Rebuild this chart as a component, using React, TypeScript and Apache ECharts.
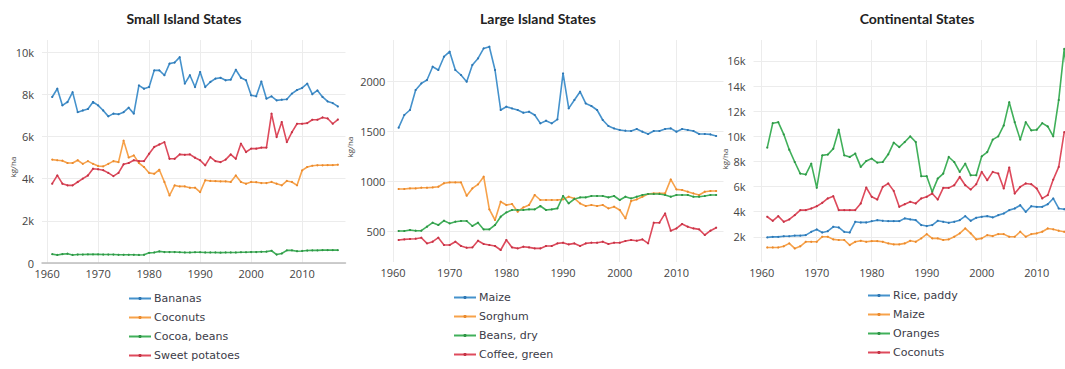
import React, { useEffect, useRef } from "react";
import * as echarts from "echarts";

const YEARS = [
  1961, 1962, 1963, 1964, 1965, 1966, 1967, 1968, 1969, 1970,
  1971, 1972, 1973, 1974, 1975, 1976, 1977, 1978, 1979, 1980,
  1981, 1982, 1983, 1984, 1985, 1986, 1987, 1988, 1989, 1990,
  1991, 1992, 1993, 1994, 1995, 1996, 1997, 1998, 1999, 2000,
  2001, 2002, 2003, 2004, 2005, 2006, 2007, 2008, 2009, 2010,
  2011, 2012, 2013, 2014, 2015, 2016, 2017,
];
const DECADES = [1960, 1970, 1980, 1990, 2000, 2010];

// Small Island States (kg/ha)
const SMALL_BANANAS = [
  7870, 8260, 7470, 7630, 8100, 7150, 7230, 7300, 7630, 7470,
  7230, 6950, 7080, 7050, 7150, 7360, 7080, 8420, 8260, 8340,
  9130, 9130, 8900, 9450, 9500, 9760, 8500, 8900, 8340, 9050,
  8340, 8580, 8740, 8780, 8660, 8690, 9160, 8780, 8660, 7950,
  7900, 8600, 7790, 7900, 7710, 7740, 7760, 8030, 8200, 8300,
  8500, 8000, 8180, 7870, 7660, 7580, 7420,
];
const SMALL_COCONUTS = [
  4900, 4870, 4850, 4740, 4740, 4870, 4700, 4830, 4700, 4600,
  4580, 4700, 4830, 4780, 5800, 5000, 5100, 4740, 4550, 4270,
  4230, 4420, 3840, 3200, 3680, 3630, 3630, 3570, 3570, 3360,
  3920, 3890, 3880, 3870, 3870, 3840, 4150, 3840, 3760, 3840,
  3830, 3790, 3790, 3840, 3760, 3680, 3890, 3840, 3680, 4390,
  4550, 4610, 4630, 4630, 4640, 4640, 4660,
];
const SMALL_COCOA = [
  420, 380, 420, 440, 380, 400, 400, 410, 410, 410,
  400, 400, 400, 390, 390, 390, 390, 380, 390, 480,
  500, 550, 520, 520, 520, 510, 500, 500, 510, 510,
  500, 500, 500, 490, 500, 500, 500, 510, 510, 520,
  520, 530, 540, 580, 400, 450, 600, 600, 560, 570,
  590, 600, 600, 610, 610, 610, 610,
];
const SMALL_SWEET_POTATOES = [
  3760, 4150, 3760, 3680, 3680, 3840, 4000, 4150, 4470, 4440,
  4400, 4270, 4120, 4270, 4680, 4740, 4870, 4830, 4830, 5180,
  5500, 5620, 5730, 4940, 4940, 5150, 5130, 5150, 4990, 4870,
  4630, 5020, 4830, 4780, 4900, 5150, 4940, 5660, 5260, 5420,
  5420, 5470, 5470, 7080, 5970, 6680, 5730, 6200, 6600, 6600,
  6630, 6790, 6790, 6900, 6850, 6600, 6800,
];

// Large Island States (kg/ha)
const LARGE_MAIZE = [
  1540, 1667, 1717, 1917, 1983, 2017, 2150, 2117, 2250, 2300,
  2117, 2067, 2000, 2167, 2233, 2333, 2350, 2117, 1717, 1750,
  1733, 1717, 1690, 1700, 1667, 1583, 1610, 1583, 1623, 2083,
  1733, 1817, 1900, 1783, 1757, 1717, 1617, 1557, 1533, 1517,
  1510, 1507, 1527, 1500, 1477, 1507, 1507, 1527, 1533, 1500,
  1527, 1517, 1507, 1477, 1477, 1473, 1457,
];
const LARGE_SORGHUM = [
  927, 927, 933, 933, 940, 940, 943, 950, 985, 993,
  993, 993, 860, 933, 973, 1050, 723, 617, 800, 767,
  777, 700, 743, 767, 867, 817, 817, 817, 817, 823,
  850, 833, 783, 757, 767, 757, 767, 733, 750, 717,
  633, 807, 823, 850, 877, 883, 883, 883, 1023, 923,
  917, 900, 883, 867, 900, 907, 907,
];
const LARGE_BEANS = [
  507, 507, 517, 510, 510, 550, 590, 567, 610, 583,
  600, 607, 607, 557, 590, 523, 523, 567, 650, 693,
  717, 717, 717, 723, 723, 757, 717, 723, 733, 857,
  783, 827, 843, 843, 857, 857, 857, 843, 857, 817,
  850, 833, 850, 867, 877, 877, 877, 867, 850, 867,
  867, 867, 850, 850, 857, 867, 867,
];
const LARGE_COFFEE = [
  417, 423, 427, 430, 440, 383, 400, 440, 367, 367,
  400, 357, 340, 343, 410, 377, 367, 357, 317, 417,
  343, 333, 350, 343, 333, 333, 357, 357, 383, 390,
  373, 383, 357, 383, 390, 390, 400, 377, 390, 390,
  407, 417, 410, 423, 383, 590, 590, 683, 510, 533,
  577, 550, 533, 523, 467, 510, 540,
];

// Continental States (kg/ha)
const CONT_RICE = [
  1960, 2000, 2000, 2050, 2050, 2100, 2100, 2140, 2400, 2590,
  2350, 2450, 2800, 2750, 2400, 2350, 3200, 3150, 3150, 3250,
  3330, 3280, 3250, 3250, 3250, 3470, 3390, 3330, 2940, 2860,
  2940, 3280, 3200, 3120, 3200, 3330, 3650, 3280, 3520, 3600,
  3650, 3550, 3730, 3860, 4130, 4260, 4520, 3990, 4440, 4390,
  4390, 4600, 5060, 4260, 4200, 4150, 4150,
];
const CONT_MAIZE = [
  1160, 1160, 1160, 1250, 1480, 1080, 1250, 1610, 1610, 1610,
  2010, 2010, 1800, 1750, 1750, 1350, 1610, 1690, 1610, 1660,
  1660, 1610, 1480, 1400, 1400, 1480, 1690, 1610, 1880, 2220,
  1880, 1880, 1750, 1800, 2010, 2280, 2670, 2280, 1800, 1880,
  2140, 2060, 2220, 2220, 2010, 2010, 2410, 2010, 2220, 2280,
  2410, 2670, 2600, 2490, 2410, 2350, 2350,
];
const CONT_ORANGES = [
  9100, 11050, 11130, 10160, 8940, 7960, 7040, 6960, 7830, 5900,
  8490, 8550, 9020, 10530, 8490, 8360, 8630, 7570, 8040, 8230,
  7910, 7960, 8570, 9500, 9150, 9550, 10000, 9550, 6830, 6830,
  5580, 6640, 7040, 8360, 7960, 7170, 7830, 6900, 6900, 8410,
  8750, 9740, 10000, 10870, 12720, 11130, 9740, 11130, 10480, 10530,
  11050, 10790, 10000, 12900, 16960, 13000, 13500,
];
const CONT_COCONUTS = [
  3600, 3280, 3650, 3200, 3390, 3730, 4130, 4130, 4260, 4440,
  4710, 5060, 5240, 4130, 4130, 4130, 4130, 4660, 5930, 5190,
  4970, 5980, 6250, 5660, 4390, 4600, 4790, 4660, 5060, 5190,
  5450, 4970, 5900, 5900, 6110, 6770, 6110, 5770, 6190, 7170,
  6510, 7170, 7040, 5850, 7520, 5450, 5980, 6250, 6190, 5850,
  5060, 5320, 6560, 7570, 10340, 10200, 10300,
];

const TITLES = ["Small Island States", "Large Island States", "Continental States"];
const Y_TICKS = [
  [0, 2000, 4000, 6000, 8000, 10000],
  [500, 1000, 1500, 2000],
  [2000, 4000, 6000, 8000, 10000, 12000, 14000, 16000],
];

const COLORS = {
  blue: { line: "#4592cc", dot: "#2f77b3" },
  orange: { line: "#f7a24a", dot: "#ea8a2e" },
  green: { line: "#40b05a", dot: "#2f9446" },
  red: { line: "#de4a5c", dot: "#c43446" },
};

const PANELS = [
  {
    series: [
      { name: "Bananas", values: SMALL_BANANAS, color: COLORS.blue },
      { name: "Coconuts", values: SMALL_COCONUTS, color: COLORS.orange },
      { name: "Cocoa, beans", values: SMALL_COCOA, color: COLORS.green },
      { name: "Sweet potatoes", values: SMALL_SWEET_POTATOES, color: COLORS.red },
    ],
  },
  {
    series: [
      { name: "Maize", values: LARGE_MAIZE, color: COLORS.blue },
      { name: "Sorghum", values: LARGE_SORGHUM, color: COLORS.orange },
      { name: "Beans, dry", values: LARGE_BEANS, color: COLORS.green },
      { name: "Coffee, green", values: LARGE_COFFEE, color: COLORS.red },
    ],
  },
  {
    series: [
      { name: "Rice, paddy", values: CONT_RICE, color: COLORS.blue },
      { name: "Maize", values: CONT_MAIZE, color: COLORS.orange },
      { name: "Oranges", values: CONT_ORANGES, color: COLORS.green },
      { name: "Coconuts", values: CONT_COCONUTS, color: COLORS.red },
    ],
  },
];

const GRIDS = [
  { left: 42, top: 40, width: 303.5, height: 223 },
  { left: 387.3, top: 40, width: 336.2, height: 222 },
  { left: 753.5, top: 40, width: 311.5, height: 222 },
];
const X_RANGES = [
  [1959, 2018.5],
  [1959, 2018.3],
  [1958.5, 2015.14],
];
const Y_RANGES = [
  [0, 10570],
  [197, 2417],
  [0, 17670],
];
const Y_LABEL_MARGIN = [8, 2, 8];
const TITLE_X = [184, 538, 917];
const YNAME_POS = [
  [12, 167],
  [349, 147],
  [724, 159],
];
const LEGEND_POS = [
  [128, 292],
  [453, 291],
  [867, 289],
];

const FONT = "'Open Sans', sans-serif";

function kFormat(v: number) {
  if (v === 0) return "0";
  return v / 1000 + "k";
}

export default function App() {
  const ref = useRef<HTMLDivElement>(null);

  useEffect(() => {
    document.body.style.margin = "0";
    if (!ref.current) return;
    const chart = echarts.init(ref.current, undefined, { renderer: "svg" });

    const xAxis = GRIDS.map((_, i) => ({
      type: "value",
      gridIndex: i,
      min: X_RANGES[i][0],
      max: X_RANGES[i][1],
      axisLine: {
        show: i === 0,
        onZero: false,
        lineStyle: { color: "#bdbdbd", width: 1.5 },
      },
      axisTick: { show: false, customValues: DECADES },
      axisLabel: {
        customValues: DECADES,
        color: "#444",
        fontFamily: FONT,
        fontSize: 11,
        margin: 5,
        formatter: (v: number) => String(v),
      },
      splitLine: { show: true, lineStyle: { color: "#ececec", width: 1 } },
    }));

    const yAxis = GRIDS.map((_, i) => ({
      type: "value",
      gridIndex: i,
      min: Y_RANGES[i][0],
      max: Y_RANGES[i][1],
      axisLine: { show: false },
      axisTick: { show: false, customValues: Y_TICKS[i] },
      axisLabel: {
        customValues: Y_TICKS[i],
        color: "#444",
        fontFamily: FONT,
        fontSize: 11,
        margin: Y_LABEL_MARGIN[i],
        formatter: (v: number) => (i === 1 ? String(v) : kFormat(v)),
      },
      splitLine: { show: true, lineStyle: { color: "#ececec", width: 1 } },
    }));

    const series: any[] = [];
    PANELS.forEach((p, i) => {
      p.series.forEach((s) => {
        series.push({
          type: "line",
          name: `P${i}:${s.name}`,
          xAxisIndex: i,
          yAxisIndex: i,
          data: YEARS.map((y, k) => [y, s.values[k]]),
          symbol: "circle",
          symbolSize: 2.2,
          showSymbol: true,
          lineStyle: { color: s.color.line, width: 1.6 },
          itemStyle: { color: s.color.dot },
          emphasis: { disabled: true },
          clip: true,
        });
      });
    });

    const legend = PANELS.map((p, i) => ({
      orient: "vertical",
      left: LEGEND_POS[i][0],
      top: LEGEND_POS[i][1],
      padding: 0,
      width: 200,
      height: 120,
      itemWidth: 22,
      itemHeight: 4,
      itemGap: 6,
      selectedMode: false,
      data: p.series.map((s) => `P${i}:${s.name}`),
      formatter: (name: string) => name.split(":")[1],
      textStyle: {
        fontFamily: "'DejaVu Sans', sans-serif",
        fontSize: 11,
        lineHeight: 13,
        color: "#3c3c48",
        padding: [0, 0, 0, -2],
      },
    }));

    const graphic: any[] = [];
    TITLES.forEach((t, i) => {
      graphic.push({
        type: "text",
        x: TITLE_X[i],
        y: 18,
        style: {
          text: t,
          fontFamily: "Lato, sans-serif",
          fontWeight: "bold",
          fontSize: 14,
          fill: "#222",
          align: "center",
          verticalAlign: "middle",
        },
      });
      graphic.push({
        type: "text",
        x: YNAME_POS[i][0],
        y: YNAME_POS[i][1],
        rotation: Math.PI / 2,
        style: {
          text: "kg/ha",
          fontFamily: FONT,
          fontSize: 8,
          fill: "#444",
          align: "center",
          verticalAlign: "middle",
        },
      });
    });

    chart.setOption({
      animation: false,
      backgroundColor: "#fff",
      grid: GRIDS.map((g) => ({ ...g, containLabel: false })),
      xAxis,
      yAxis,
      series,
      legend,
      graphic,
    });

    return () => chart.dispose();
  }, []);

  return <div ref={ref} style={{ width: 1065, height: 369 }} />;
}
